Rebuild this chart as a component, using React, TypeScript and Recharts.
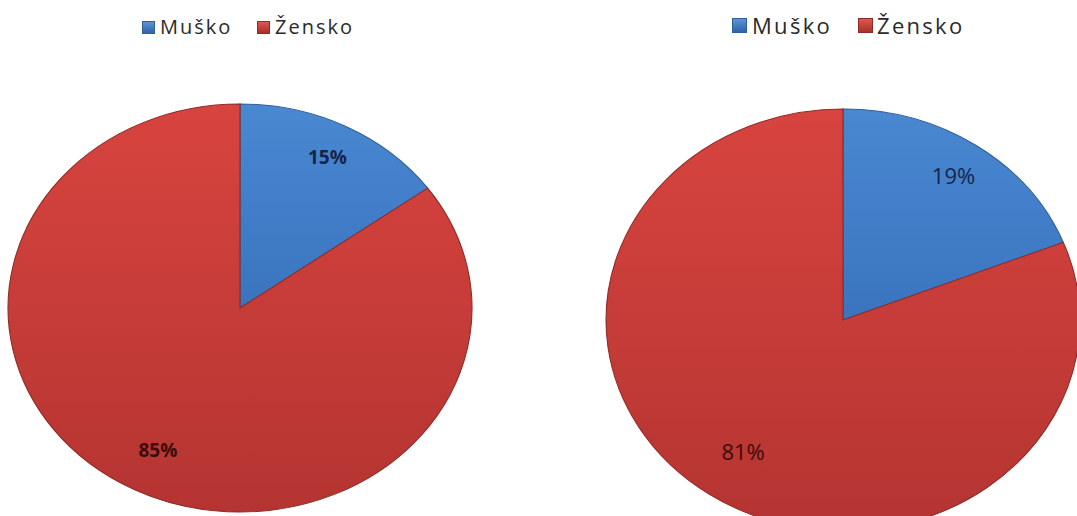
import React from 'react';
import { PieChart, Pie, Cell } from 'recharts';

const categories = ['Muško', 'Žensko'];
const leftValues = [15, 85];
const rightValues = [19, 81];
const gradIds = ['gradBlue', 'gradRed'];
const strokeColors = ['#2f5f9a', '#8e2c28'];
const labelColors = ['#16254a', '#3a0c0a'];

type PieProps = {
  values: number[];
  left: number;
  width: number;
  height: number;
  cx: number;
  cy: number;
  r: number;
  k: number;
  cls: string;
  fontSize: number;
  fontWeight: number;
  labelFactors: number[];
};

function EllipsePie(p: PieProps) {
  const data = categories.map((name, i) => ({ name, value: p.values[i] }));
  const RAD = Math.PI / 180;
  const renderLabel = (props: any) => {
    const { midAngle, outerRadius, value, index } = props;
    const rr = outerRadius * p.labelFactors[index];
    const x = p.cx + p.k * rr * Math.cos(-midAngle * RAD);
    const y = p.cy + rr * Math.sin(-midAngle * RAD);
    return (
      <text
        x={x}
        y={y}
        textAnchor="middle"
        dominantBaseline="central"
        fill={labelColors[index]}
        fontSize={p.fontSize}
        fontWeight={p.fontWeight}
        fontFamily="'Open Sans', sans-serif"
      >
        {`${value}%`}
      </text>
    );
  };
  return (
    <div className={p.cls} style={{ position: 'absolute', left: p.left, top: 0 }}>
      <style>{`.${p.cls} path.recharts-sector { transform: scaleX(${p.k}); transform-origin: ${p.cx}px ${p.cy}px; }`}</style>
      <PieChart width={p.width} height={p.height} margin={{ top: 0, right: 0, bottom: 0, left: 0 }}>
        <Pie
          data={data}
          dataKey="value"
          nameKey="name"
          cx={p.cx}
          cy={p.cy}
          outerRadius={p.r}
          innerRadius={0}
          startAngle={90}
          endAngle={-270}
          isAnimationActive={false}
          labelLine={false}
          label={renderLabel}
        >
          {data.map((d, i) => (
            <Cell key={d.name} fill={`url(#${gradIds[i]})`} stroke={strokeColors[i]} strokeWidth={1} />
          ))}
        </Pie>
      </PieChart>
    </div>
  );
}

type LegendProps = {
  items: { sq: number; tx: number }[];
  top: number;
  fontSize: number;
  sq: number;
  spacing: number;
};

const legendFills = ['linear-gradient(#5c95d6, #2f64a8)', 'linear-gradient(#e05550, #a8302c)'];

function HtmlLegend(p: LegendProps) {
  return (
    <>
      {categories.map((c, i) => (
        <React.Fragment key={c}>
          <div
            style={{
              position: 'absolute',
              left: p.items[i].sq,
              top: p.top - p.sq / 2,
              width: p.sq,
              height: p.sq,
              background: legendFills[i],
              boxSizing: 'border-box',
              border: '1px solid ' + strokeColors[i],
            }}
          />
          <div
            style={{
              position: 'absolute',
              left: p.items[i].tx,
              top: p.top - p.fontSize * 0.7,
              fontSize: p.fontSize,
              lineHeight: `${p.fontSize * 1.4}px`,
              fontFamily: "'Open Sans', sans-serif",
              color: '#2a2a2a',
              letterSpacing: p.spacing,
              whiteSpace: 'nowrap',
            }}
          >
            {c}
          </div>
        </React.Fragment>
      ))}
    </>
  );
}

export default function App() {
  return (
    <div
      style={{
        position: 'absolute',
        left: 0,
        top: 0,
        width: 1077,
        height: 516,
        overflow: 'hidden',
        background: '#ffffff',
      }}
    >
      <svg width={0} height={0} style={{ position: 'absolute' }}>
        <defs>
          <linearGradient id="gradBlue" x1="0" y1="0" x2="0" y2="1">
            <stop offset="0%" stopColor="#4a88d2" />
            <stop offset="100%" stopColor="#3a74bf" />
          </linearGradient>
          <linearGradient id="gradRed" x1="0" y1="0" x2="0" y2="1">
            <stop offset="0%" stopColor="#d8443f" />
            <stop offset="100%" stopColor="#b43431" />
          </linearGradient>
        </defs>
      </svg>
      <EllipsePie
        values={leftValues}
        left={0}
        width={538}
        height={516}
        cx={240}
        cy={308}
        r={204}
        k={1.137}
        cls="pieLeft"
        fontSize={19}
        fontWeight={700}
        labelFactors={[0.83, 0.78]}
      />
      <EllipsePie
        values={rightValues}
        left={538}
        width={560}
        height={560}
        cx={305}
        cy={320}
        r={211}
        k={1.123}
        cls="pieRight"
        fontSize={22}
        fontWeight={400}
        labelFactors={[0.83, 0.75]}
      />
      <HtmlLegend items={[{ sq: 142, tx: 160 }, { sq: 257, tx: 275 }]} top={27} fontSize={20} sq={13} spacing={2} />
      <HtmlLegend items={[{ sq: 732, tx: 752 }, { sq: 858, tx: 877 }]} top={25} fontSize={22} sq={15} spacing={2.3} />
    </div>
  );
}
